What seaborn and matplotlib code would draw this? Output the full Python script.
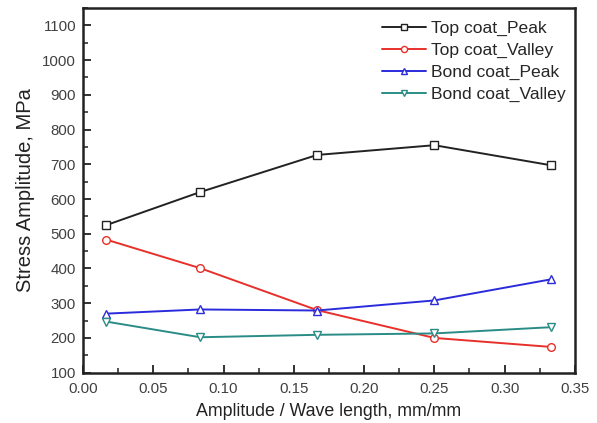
import matplotlib
matplotlib.use("Agg")
import matplotlib.pyplot as plt
import seaborn as sns
import pandas as pd
from matplotlib.ticker import MultipleLocator

x = [1/60, 1/12, 1/6, 0.25, 1/3]
top_peak = [525, 620, 727, 755, 697]
top_valley = [483, 401, 280, 200, 174]
bond_peak = [270, 282, 279, 308, 369]
bond_valley = [247, 202, 209, 213, 231]

names = ["Top coat_Peak", "Top coat_Valley", "Bond coat_Peak", "Bond coat_Valley"]
series = [top_peak, top_valley, bond_peak, bond_valley]
colors = ["#222222", "#e8302a", "#2b2bdc", "#2a8c86"]
markers = ["s", "o", "^", "v"]

sns.set_style("ticks")
plt.rcParams["font.family"] = ["Liberation Sans", "DejaVu Sans"]

fig = plt.figure(figsize=(5.97, 4.23), dpi=100)
ax = fig.add_axes([0.139, 0.119, 0.824, 0.862])

for name, vals, c, m in zip(names, series, colors, markers):
    df = pd.DataFrame({"x": x, "y": vals})
    sns.lineplot(data=df, x="x", y="y", ax=ax, color=c, marker=m, markersize=5.5,
                 mfc="white", mec=c, mew=1.0, lw=1.4, label=name)

ax.set_xlim(0, 0.35)
ax.set_ylim(100, 1150)
ax.xaxis.set_minor_locator(MultipleLocator(0.025))
ax.yaxis.set_minor_locator(MultipleLocator(50))
ax.set_xticks([0, 0.05, 0.10, 0.15, 0.20, 0.25, 0.30, 0.35])
ax.set_xticklabels(["0.00", "0.05", "0.10", "0.15", "0.20", "0.25", "0.30", "0.35"])
ax.set_yticks(range(100, 1101, 100))
ax.tick_params(which="major", direction="in", length=6, width=1.3, labelsize=10.8,
               colors="#222222", labelcolor="#404040")
ax.tick_params(axis="x", which="major", pad=7)
ax.tick_params(axis="y", which="major", pad=5)
ax.tick_params(which="minor", direction="in", length=3.5, width=1.1, colors="#222222")
ax.tick_params(top=False, right=False, which="both")
for s in ax.spines.values():
    s.set_linewidth(1.8)
    s.set_color("#222222")

ax.set_xlabel("Amplitude / Wave length, mm/mm", fontsize=12.8, color="#222222", labelpad=5)
ax.set_ylabel("Stress Amplitude, MPa", fontsize=14.5, color="#222222", labelpad=5)

leg = ax.legend(loc="upper right", frameon=False, fontsize=12.6, handlelength=2.5,
                handletextpad=0.3, labelspacing=0.38, borderaxespad=0.0, markerscale=0.8,
                bbox_to_anchor=(0.995, 0.985))

fig.savefig("out.png", dpi=100)
